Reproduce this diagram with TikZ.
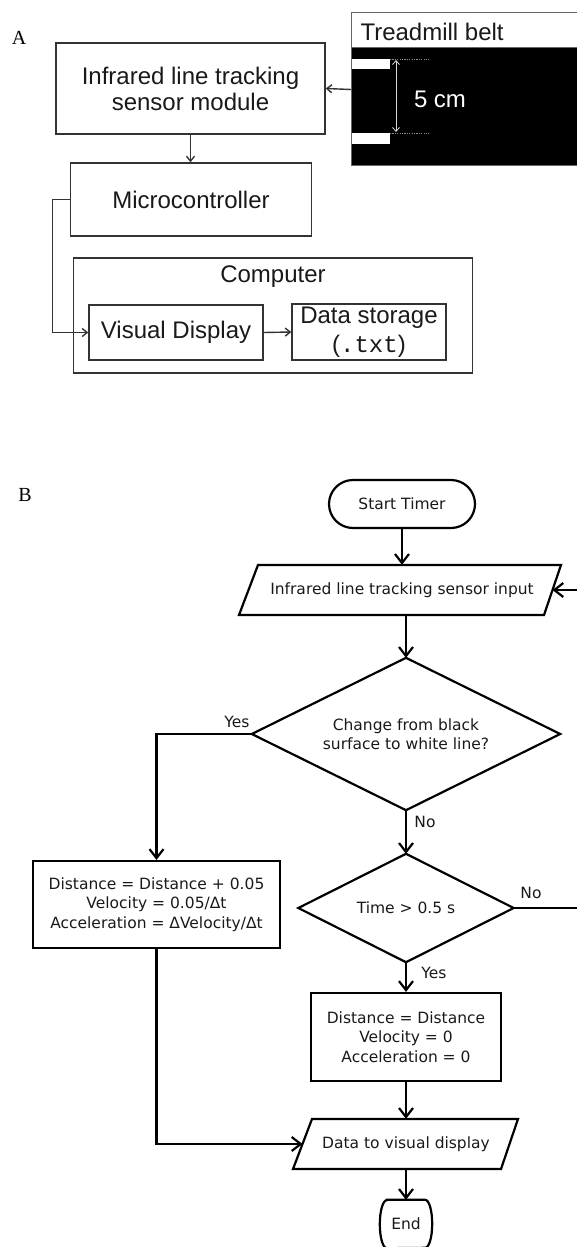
\documentclass[tikz,border=0pt]{standalone}
\usepackage{fontspec}
\setmainfont{Liberation Serif}
\newfontfamily\arial{Liberation Sans}
\newfontfamily\dejavu{DejaVu Sans}
\newfontfamily\cour{Liberation Mono}
\usetikzlibrary{arrows.meta,calc}
\begin{document}
\begin{tikzpicture}[x=1pt,y=-1pt,
  atxt/.style={font=\arial\fontsize{24}{26}\selectfont, text=black!90, align=center},
  abox/.style={draw=black!80, line width=1.4pt, inner sep=0pt, atxt},
  aline/.style={draw=black!80, line width=1.4pt},
  aarr/.style={aline, -{Straight Barb[length=5pt,width=8pt]}},
  btxt/.style={font=\dejavu\fontsize{15.5}{19.5}\selectfont, text=black!90, align=center},
  bshape/.style={draw=black, line width=2.2pt},
  bbox/.style={bshape, inner sep=0pt, btxt},
  bnode/.style={inner sep=0pt, btxt},
  barr/.style={bshape, -{Straight Barb[length=9pt,width=14pt]}},
  panel/.style={font=\fontsize{20}{22}\selectfont}
]
\useasboundingbox (0,0) rectangle (577,1247);
\clip (0,0) rectangle (577,1247);

% ---------------- Panel A ----------------
\node[panel] (lA) at (19,38) {A};
\node[abox, minimum width=269pt, minimum height=91pt] (inf) at (190.5,88.5) {Infrared line tracking\\sensor module};
\node[abox, minimum width=241pt, minimum height=73pt] (mc) at (191,199.5) {Microcontroller};
\node[abox, minimum width=398.5pt, minimum height=115pt] (comp) at (273,315.5) {};
\node[atxt] (comptxt) at (273,277) {Computer};
\node[abox, minimum width=174pt, minimum height=55pt] (vd) at (176,332.5) {Visual Display};
\node[abox, minimum width=154pt, minimum height=56pt, font=\arial\fontsize{24}{29}\selectfont] (ds) at (369,332) {Data storage\\({\cour .txt})};

% treadmill belt
\node[draw=black!60, line width=1pt, fill=black, minimum width=260pt, minimum height=152pt, inner sep=0pt, anchor=north west] (tread) at (351,13) {};
\draw[draw=black!60, fill=white, line width=1pt] (tread.north west) rectangle (612,48);
\node[atxt, anchor=west] (tbelt) at (357,32) {Treadmill belt};
\fill[white] (352,59) rectangle (390,69);
\fill[white] (352,133) rectangle (390,144);
\draw[black!45, line width=0.7pt, dash pattern=on 1.2pt off 1.2pt] (390,59.5) -- (429,59.5);
\draw[black!45, line width=0.7pt, dash pattern=on 1.2pt off 1.2pt] (390,133.5) -- (429,133.5);
\coordinate (t1) at (396,60);
\coordinate (t2) at (396,132);
\draw[white!85!black, line width=0.8pt, {Straight Barb[length=4pt,width=7pt]}-{Straight Barb[length=4pt,width=7pt]}] (t1) -- (t2);
\node[atxt, text=white] (fivecm) at (440,99) {5 cm};

\draw[aarr] (tread.west) -- (inf.east);
\draw[aarr] (inf.south) -- (inf.south |- mc.north);
\draw[aarr] (mc.west) -- ++(-17.5,0) |- (vd.west);
\draw[aarr] (vd.east) -- (ds.west);

% ---------------- Panel B ----------------
\node[panel] (lB) at (25,495) {B};
\node[bbox, rounded corners=24pt, minimum width=146pt, minimum height=48pt] (start) at (402,504) {Start Timer};

\node[bnode, minimum width=290pt, minimum height=50pt] (in1) at (402,590) {Infrared line tracking sensor input};
\draw[bshape] ($(in1.center)+(-144,-25)$) -- ($(in1.center)+(159,-25)$) -- ($(in1.center)+(142,25)$) -- ($(in1.center)+(-163,25)$) -- cycle;
\coordinate (in1r) at ($(in1.center)+(150.5,0)$);

\node[bnode, minimum width=308pt, minimum height=152pt] (d1) at (406,734) {Change from black\\surface to white line?};
\draw[bshape] (d1.north) -- (d1.east) -- (d1.south) -- (d1.west) -- cycle;

\node[bbox, minimum width=247pt, minimum height=87pt] (b1) at (156.5,904.5) {Distance = Distance + 0.05\\Velocity = 0.05/Δt\\Acceleration = ΔVelocity/Δt};

\node[bnode, minimum width=215pt, minimum height=108pt] (d2) at (406,908) {Time > 0.5 s};
\draw[bshape] (d2.north) -- (d2.east) -- (d2.south) -- (d2.west) -- cycle;

\node[bbox, minimum width=190pt, minimum height=88pt] (b2) at (406,1037) {Distance = Distance\\Velocity = 0\\Acceleration = 0};

\node[bnode, minimum width=200pt, minimum height=50pt] (in2) at (406,1144) {Data to visual display};
\draw[bshape] ($(in2.center)+(-94,-25)$) -- ($(in2.center)+(112,-25)$) -- ($(in2.center)+(95,25)$) -- ($(in2.center)+(-113,25)$) -- cycle;
\coordinate (in2l) at ($(in2.center)+(-103.5,0)$);

\node[bnode, minimum width=52pt, minimum height=48pt] (endn) at (406,1224) {End};
\draw[bshape] ($(endn.north west)+(7,0)$) -- ($(endn.north east)+(-7,0)$) arc[start angle=-90, end angle=90, x radius=7, y radius=24] -- ($(endn.south west)+(7,0)$) arc[start angle=90, end angle=270, x radius=7, y radius=24] -- cycle;

\draw[barr] (start.south) -- (in1.north);
\draw[barr] (d1.north |- in1.south) -- (d1.north);
\draw[barr] (d1.west) -| (b1.north);
\node[btxt] (yes1) at (237,722) {Yes};
\draw[barr] (d1.south) -- (d2.north);
\node[btxt] (no1) at (425,822) {No};
\coordinate (loopc) at (596,908);
\draw[barr] (d2.east) -- (loopc) |- (in1r);
\node[btxt] (no2) at (531,893) {No};
\draw[barr] (d2.south) -- (b2.north);
\node[btxt] (yes2) at (434,973) {Yes};
\draw[barr] (b2.south) -- (in2.north);
\draw[barr] (b1.south) |- (in2l);
\draw[barr] (in2.south) -- (endn.north);
\end{tikzpicture}
\end{document}
